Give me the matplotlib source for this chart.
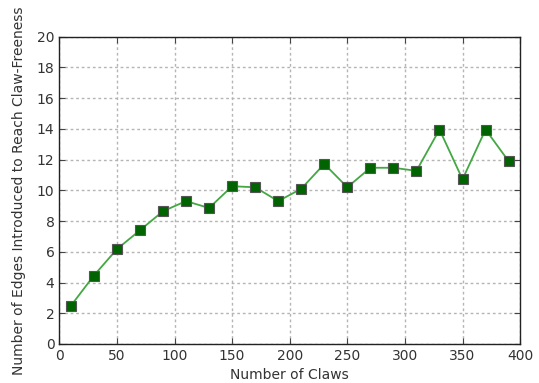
import matplotlib
matplotlib.use("Agg")
import matplotlib.pyplot as plt

# Claws vs edges needed to reach claw-freeness
claws = [10, 30, 50, 70, 90, 110, 130, 150, 170, 190,
         210, 230, 250, 270, 290, 310, 330, 350, 370, 390]
edges = [2.48, 4.45, 6.17, 7.4, 8.64, 9.3, 8.85, 10.27, 10.2, 9.3,
         10.1, 11.72, 10.2, 11.47, 11.47, 11.27, 13.96, 10.72, 13.96, 11.9]

plt.rcParams["text.color"] = "#333333"
plt.rcParams["xtick.labelcolor"] = "#333333"
plt.rcParams["ytick.labelcolor"] = "#333333"
plt.rcParams["axes.labelcolor"] = "#333333"

fig = plt.figure(figsize=(5.39, 3.83), dpi=100)
ax = fig.add_axes([0.11, 0.102, 0.855, 0.802])

ax.plot(claws, edges, "-", color="#43a843", linewidth=1.3)
ax.plot(claws, edges, "s", markersize=6.6, markerfacecolor="#006400",
        markeredgecolor="#555555", markeredgewidth=0.8)

ax.set_xlim(0, 400)
ax.set_ylim(0, 20)
ax.set_xticks(range(0, 401, 50))
ax.set_yticks(range(0, 21, 2))
ax.grid(True, linestyle=(0, (2, 2)), color="#b5b5b5", linewidth=1.0)
ax.tick_params(direction="in", top=True, right=True, length=4,
               labelsize=10, color="#444444")
for s in ax.spines.values():
    s.set_linewidth(1.0)
    s.set_color("#222222")

ax.set_xlabel("Number of Claws", fontsize=10)
ax.set_ylabel("Number of Edges Introduced to Reach Claw-Freeness",
              fontsize=10, labelpad=8)

fig.savefig("out.png", dpi=100)
